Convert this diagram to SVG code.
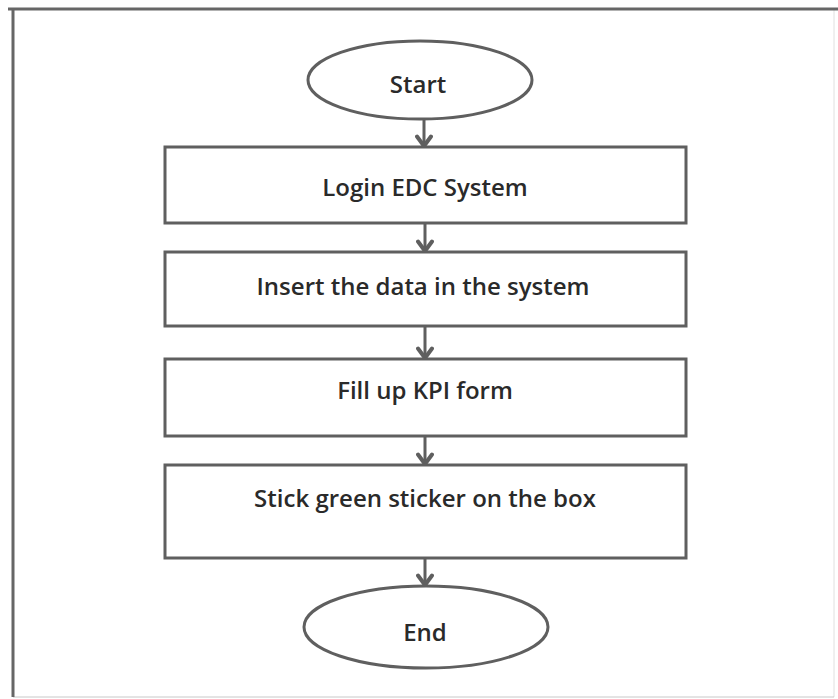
<svg xmlns="http://www.w3.org/2000/svg" width="838" height="699" viewBox="0 0 838 699">
  <style>
    .shape { fill: #ffffff; stroke: #5f5f5f; stroke-width: 3; }
    .label { font-family: "Open Sans", "Liberation Sans", sans-serif; font-size: 24px; font-weight: 600; fill: #2a2a2a; text-anchor: middle; }
    .conn { stroke: #5f5f5f; stroke-width: 3; fill: none; }
  </style>
  <defs>
    <!-- open chevron head, drawn along +x so orient="auto" turns it with the line -->
    <marker id="arrow" viewBox="0 0 14 18" refX="12" refY="9" markerWidth="14" markerHeight="18" markerUnits="userSpaceOnUse" orient="auto">
      <path d="M2.5,2 L12,9 L2.5,16" fill="none" stroke="#5f5f5f" stroke-width="4" stroke-linejoin="round" stroke-linecap="round"/>
    </marker>
  </defs>
  <rect width="838" height="699" fill="#ffffff"/>

  <!-- page frame: heavy top/left, light bottom/right -->
  <g id="frame">
    <line x1="834" y1="9" x2="834" y2="697" stroke="#e0e0e0" stroke-width="1"/>
    <line x1="13" y1="697" x2="834" y2="697" stroke="#c8c8c8" stroke-width="1"/>
    <line x1="8" y1="9" x2="838" y2="9" stroke="#666666" stroke-width="3"/>
    <line x1="13" y1="8" x2="13" y2="697" stroke="#666666" stroke-width="3"/>
  </g>

  <g id="connectors">
    <line class="conn" x1="424" y1="119" x2="424" y2="146" marker-end="url(#arrow)"/>
    <line class="conn" x1="425" y1="223" x2="425" y2="251" marker-end="url(#arrow)"/>
    <line class="conn" x1="425" y1="326" x2="425" y2="358" marker-end="url(#arrow)"/>
    <line class="conn" x1="425" y1="436" x2="425" y2="464" marker-end="url(#arrow)"/>
    <line class="conn" x1="425" y1="558" x2="425" y2="585" marker-end="url(#arrow)"/>
  </g>

  <g id="start">
    <ellipse class="shape" cx="420" cy="80" rx="112" ry="39"/>
    <text class="label" x="418" y="93">Start</text>
  </g>

  <g id="login">
    <rect class="shape" x="165" y="147" width="521" height="76"/>
    <text class="label" x="425" y="196">Login EDC System</text>
  </g>

  <g id="insert-data">
    <rect class="shape" x="165" y="252" width="521" height="74"/>
    <text class="label" x="423" y="295">Insert the data in the system</text>
  </g>

  <g id="kpi-form">
    <rect class="shape" x="165" y="359" width="521" height="77"/>
    <text class="label" x="425" y="399">Fill up KPI form</text>
  </g>

  <g id="sticker">
    <rect class="shape" x="165" y="465" width="521" height="93"/>
    <text class="label" x="425" y="507">Stick green sticker on the box</text>
  </g>

  <g id="end">
    <ellipse class="shape" cx="426" cy="627" rx="122" ry="41"/>
    <text class="label" x="425" y="641">End</text>
  </g>
</svg>
